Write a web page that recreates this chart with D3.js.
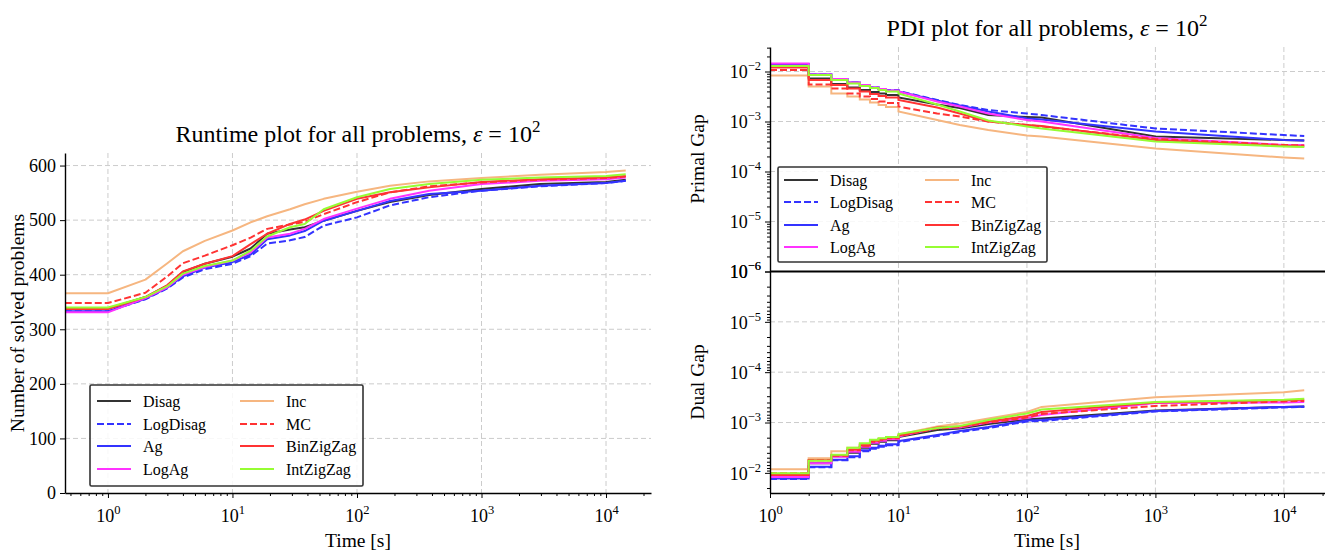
<!DOCTYPE html>
<html><head><meta charset="utf-8">
<script src="https://cdn.jsdelivr.net/npm/d3@7"></script>
<style>
body{margin:0;background:#fff;}
svg{display:block;font-family:"Liberation Serif","DejaVu Serif",serif;}
</style></head>
<body><svg id="c" width="1325" height="552"></svg>
<script>
// ---------- data ----------
const seriesNames = ["Disag","LogDisag","Ag","LogAg","Inc","MC","BinZigZag","IntZigZag"];
const seriesColors = ["#333333","#3333ff","#3333ff","#ff33ff","#f6b680","#ff3333","#ff3333","#96fd33"];
const seriesDashed = [false,true,false,false,false,true,false,false];

// runtime plot: number of solved problems at given times [s]
const runtimeTimes = [0.45,1,2,3,4,6,10,14,19,29,38,54,100,184,380,1000,2950,10000,14400];
const runtimeDisag     = [338,338,359,380,405,420,433,448,475,483,487,499,517,533,546,557,566,570,574];
const runtimeLogDisag  = [333,333,355,375,395,410,420,434,457,463,469,490,505,527,542,554,562,568,572];
const runtimeAg        = [333,333,356,376,397,413,423,437,465,472,480,499,517,535,548,554,563,568,572];
const runtimeLogAg     = [331,331,357,377,400,414,426,441,468,475,484,502,521,539,554,566,572,575,578];
const runtimeInc       = [366,366,391,421,443,462,481,496,507,520,529,539,552,563,571,577,583,588,591];
const runtimeMC        = [348,348,367,397,421,435,454,468,484,492,497,511,533,551,562,569,574,577,580];
const runtimeBinZigZag = [337,337,359,381,406,420,434,456,475,493,501,517,539,551,560,570,575,578,581];
const runtimeIntZigZag = [340,340,359,379,402,416,426,444,470,487,493,520,542,557,566,574,578,581,584];
const runtimeSeries = [runtimeDisag,runtimeLogDisag,runtimeAg,runtimeLogAg,runtimeInc,runtimeMC,runtimeBinZigZag,runtimeIntZigZag];

// PDI plot: gaps (log10 of value) at given times [s]
const pdiTimes = [1,2,3,4,5,6,7,8,10,20,30,50,100,130,1000,10000,14400];
const primalDisag     = [-1.89,-2.14,-2.25,-2.32,-2.37,-2.41,-2.44,-2.47,-2.52,-2.66,-2.73,-2.87,-2.91,-2.92,-3.30,-3.37,-3.38];
const primalLogDisag  = [-1.85,-2.06,-2.15,-2.22,-2.27,-2.32,-2.35,-2.37,-2.39,-2.57,-2.67,-2.77,-2.84,-2.87,-3.14,-3.27,-3.29];
const primalAg        = [-1.85,-2.06,-2.15,-2.22,-2.27,-2.32,-2.35,-2.38,-2.40,-2.58,-2.68,-2.80,-2.94,-2.96,-3.20,-3.37,-3.38];
const primalLogAg     = [-1.84,-2.06,-2.15,-2.22,-2.27,-2.32,-2.35,-2.38,-2.40,-2.60,-2.70,-2.84,-2.97,-3.00,-3.33,-3.47,-3.47];
const primalInc       = [-2.08,-2.30,-2.44,-2.50,-2.56,-2.62,-2.67,-2.71,-2.80,-2.97,-3.07,-3.17,-3.28,-3.30,-3.54,-3.72,-3.74];
const primalMC        = [-1.97,-2.26,-2.34,-2.44,-2.50,-2.55,-2.60,-2.63,-2.70,-2.84,-2.90,-3.00,-3.07,-3.10,-3.35,-3.47,-3.48];
const primalBinZigZag = [-1.92,-2.17,-2.27,-2.34,-2.40,-2.45,-2.49,-2.52,-2.57,-2.72,-2.84,-3.00,-3.07,-3.09,-3.37,-3.49,-3.50];
const primalIntZigZag = [-1.89,-2.07,-2.17,-2.24,-2.29,-2.33,-2.37,-2.40,-2.44,-2.66,-2.80,-2.98,-3.10,-3.14,-3.40,-3.50,-3.51];
const primalSeries = [primalDisag,primalLogDisag,primalAg,primalLogAg,primalInc,primalMC,primalBinZigZag,primalIntZigZag];

const dualDisag     = [-1.92,-2.19,-2.33,-2.40,-2.50,-2.58,-2.62,-2.65,-2.71,-2.85,-2.88,-2.97,-3.06,-3.08,-3.24,-3.31,-3.32];
const dualLogDisag  = [-1.88,-2.11,-2.25,-2.31,-2.43,-2.48,-2.52,-2.55,-2.61,-2.73,-2.81,-2.89,-3.02,-3.03,-3.22,-3.30,-3.31];
const dualAg        = [-1.89,-2.12,-2.26,-2.33,-2.45,-2.50,-2.54,-2.57,-2.63,-2.75,-2.83,-2.91,-3.04,-3.05,-3.23,-3.31,-3.32];
const dualLogAg     = [-1.92,-2.19,-2.32,-2.42,-2.52,-2.60,-2.64,-2.67,-2.72,-2.89,-2.90,-3.00,-3.09,-3.15,-3.39,-3.40,-3.41];
const dualInc       = [-2.07,-2.29,-2.43,-2.50,-2.57,-2.64,-2.68,-2.71,-2.76,-2.92,-2.98,-3.08,-3.21,-3.31,-3.50,-3.60,-3.64];
const dualMC        = [-1.99,-2.25,-2.34,-2.45,-2.54,-2.62,-2.66,-2.69,-2.73,-2.88,-2.91,-3.00,-3.10,-3.17,-3.33,-3.42,-3.43];
const dualBinZigZag = [-1.96,-2.25,-2.35,-2.46,-2.55,-2.64,-2.67,-2.70,-2.74,-2.90,-2.92,-3.02,-3.13,-3.21,-3.40,-3.44,-3.45];
const dualIntZigZag = [-1.99,-2.24,-2.36,-2.50,-2.59,-2.66,-2.69,-2.71,-2.77,-2.89,-2.93,-3.05,-3.18,-3.26,-3.41,-3.45,-3.47];
const dualSeries = [dualDisag,dualLogDisag,dualAg,dualLogAg,dualInc,dualMC,dualBinZigZag,dualIntZigZag];

const runtimeYTicks = [0,100,200,300,400,500,600];
const timeDecades = [0,1,2,3,4];
const gapDecades = [-2,-3,-4,-5,-6];

// ---------- drawing ----------
const svg = d3.select("#c");
const FONT_TICK = 18, FONT_SUP = 12.5, FONT_LABEL = 19.5, FONT_TITLE = 24, FONT_LEG = 16;
const GRID = "#cccccc";

function minorTicks(lo, hi){
  const out=[];
  for(let e=Math.floor(Math.log10(lo))-1;e<=Math.ceil(Math.log10(hi));e++)
    for(let m=2;m<=9;m++){const v=m*Math.pow(10,e); if(v>=lo&&v<=hi) out.push(v);}
  return out;
}
function powLabel(sel, exp){
  sel.text(null);
  sel.append("tspan").text("10");
  sel.append("tspan").attr("dy",-8).attr("font-size",FONT_SUP).text(exp<0?"\u2212"+(-exp):String(exp));
}
function styleAxis(g){
  g.selectAll(".domain").attr("stroke","#000").attr("stroke-width",1.4);
  g.selectAll(".tick line").attr("stroke","#000").attr("stroke-width",1);
  g.selectAll(".tick text").attr("font-family","Liberation Serif, serif").attr("font-size",FONT_TICK).attr("fill","#000");
}
function titleText(x,y,prefix){
  const t = svg.append("text").attr("x",x).attr("y",y).attr("text-anchor","middle")
    .attr("font-size",FONT_TITLE).attr("fill","#000");
  t.append("tspan").text(prefix);
  t.append("tspan").attr("font-style","italic").text("\u03b5");
  t.append("tspan").text(" = 10");
  t.append("tspan").attr("dy",-10).attr("font-size",17).text("2");
}
function buildPoints(times, vals, xs, ys, stepUntil, toVal){
  const pts=[];
  for(let i=0;i<times.length;i++){
    const v = toVal(vals[i]);
    if(i>0 && times[i]<=stepUntil) pts.push([xs(times[i]), ys(toVal(vals[i-1]))]);
    pts.push([xs(times[i]), ys(v)]);
  }
  return pts;
}
function drawLegend(x0,y0,w,h,rowY,col1,col2){
  const g = svg.append("g");
  g.append("rect").attr("x",x0).attr("y",y0).attr("width",w).attr("height",h)
    .attr("fill","#fff").attr("fill-opacity",0.85).attr("stroke","#333").attr("stroke-width",1.6).attr("rx",1.5);
  seriesNames.forEach((n,i)=>{
    const col = i<4?col1:col2, r = i%4;
    const y = y0+rowY[r];
    g.append("line").attr("x1",col).attr("x2",col+34).attr("y1",y).attr("y2",y)
      .attr("stroke",seriesColors[i]).attr("stroke-width",2.2)
      .attr("stroke-dasharray",seriesDashed[i]?"7,3":null);
    g.append("text").attr("x",col+46).attr("y",y+5.5).attr("font-size",FONT_LEG).attr("fill","#000").text(n);
  });
}

// ===== LEFT: runtime plot =====
const xL = d3.scaleLog().domain([0.452, 22970]).range([65, 651]);
const yL = d3.scaleLinear().domain([0, 623]).range([493, 153]);
svg.append("g").selectAll("line").data(timeDecades).join("line")
  .attr("x1",d=>xL(Math.pow(10,d))).attr("x2",d=>xL(Math.pow(10,d))).attr("y1",153).attr("y2",493)
  .attr("stroke",GRID).attr("stroke-dasharray","5,3").attr("stroke-width",1);
svg.append("g").selectAll("line").data(runtimeYTicks.slice(1)).join("line")
  .attr("x1",65).attr("x2",651).attr("y1",d=>yL(d)).attr("y2",d=>yL(d))
  .attr("stroke",GRID).attr("stroke-dasharray","5,3").attr("stroke-width",1);
svg.append("clipPath").attr("id","clipL").append("rect").attr("x",65).attr("y",140).attr("width",586).attr("height",353);
const gL = svg.append("g").attr("clip-path","url(#clipL)");
const lineGen = d3.line();
runtimeSeries.forEach((vals,i)=>{
  const pts = buildPoints(runtimeTimes, vals, xL, yL, 0, v=>v);
  gL.append("path").attr("d",lineGen(pts)).attr("fill","none").attr("stroke",seriesColors[i])
    .attr("stroke-width",2).attr("stroke-linejoin","round")
    .attr("stroke-dasharray",seriesDashed[i]?"7,3":null);
});
const axLx = svg.append("g").attr("transform","translate(0,493)")
  .call(d3.axisBottom(xL).tickValues(timeDecades.map(d=>Math.pow(10,d))).tickSize(5).tickPadding(4).tickSizeOuter(0));
axLx.selectAll(".tick text").each(function(d){ powLabel(d3.select(this), Math.round(Math.log10(d))); }).attr("dy","1.1em");
styleAxis(axLx);
const axLxm = svg.append("g").attr("transform","translate(0,493)")
  .call(d3.axisBottom(xL).tickValues(minorTicks(0.452,22970)).tickSize(3).tickFormat(""));
axLxm.select(".domain").remove(); axLxm.selectAll(".tick line").attr("stroke","#000");
const axLy = svg.append("g").attr("transform","translate(65,0)")
  .call(d3.axisLeft(yL).tickValues(runtimeYTicks).tickSize(5).tickPadding(4).tickSizeOuter(0));
styleAxis(axLy);
titleText(358,142,"Runtime plot for all problems, ");
svg.append("text").attr("x",358).attr("y",547).attr("text-anchor","middle").attr("font-size",FONT_LABEL).text("Time [s]");
svg.append("text").attr("transform","translate(24,323) rotate(-90)").attr("text-anchor","middle").attr("font-size",FONT_LABEL).text("Number of solved problems");
drawLegend(90,385,273,101,[16,39,61,84],97,240);

// ===== RIGHT: PDI plot =====
const xR = d3.scaleLog().domain([1, Math.pow(10,4.32)]).range([770, 1325]);
const yTop = d3.scaleLog().domain([1e-6, Math.pow(10,-1.51)]).range([271.5, 47]);
const yBot = d3.scaleLog().domain([1e-6, Math.pow(10,-1.6)]).range([271.5, 493]);
[[47,271.5],[271.5,493]].forEach(([a,b])=>{
  svg.append("g").selectAll("line").data(timeDecades.slice(1)).join("line")
    .attr("x1",d=>xR(Math.pow(10,d))).attr("x2",d=>xR(Math.pow(10,d))).attr("y1",a).attr("y2",b)
    .attr("stroke",GRID).attr("stroke-dasharray","5,3");
});
[yTop,yBot].forEach(sc=>{
  svg.append("g").selectAll("line").data(gapDecades.slice(0,4)).join("line")
    .attr("x1",770).attr("x2",1325).attr("y1",d=>sc(Math.pow(10,d))).attr("y2",d=>sc(Math.pow(10,d)))
    .attr("stroke",GRID).attr("stroke-dasharray","5,3");
});
svg.append("clipPath").attr("id","clipT").append("rect").attr("x",770).attr("y",40).attr("width",560).attr("height",231.5);
svg.append("clipPath").attr("id","clipB").append("rect").attr("x",770).attr("y",271.5).attr("width",560).attr("height",221.5);
const gT = svg.append("g").attr("clip-path","url(#clipT)");
const gB = svg.append("g").attr("clip-path","url(#clipB)");
const toGap = v=>Math.pow(10,v);
primalSeries.forEach((vals,i)=>{
  const pts = buildPoints(pdiTimes, vals, xR, yTop, 10, toGap);
  gT.append("path").attr("d",lineGen(pts)).attr("fill","none").attr("stroke",seriesColors[i])
    .attr("stroke-width",2).attr("stroke-dasharray",seriesDashed[i]?"7,3":null);
});
dualSeries.forEach((vals,i)=>{
  const pts = buildPoints(pdiTimes, vals, xR, yBot, 10, toGap);
  gB.append("path").attr("d",lineGen(pts)).attr("fill","none").attr("stroke",seriesColors[i])
    .attr("stroke-width",2).attr("stroke-dasharray",seriesDashed[i]?"7,3":null);
});
const axRx = svg.append("g").attr("transform","translate(0,493)")
  .call(d3.axisBottom(xR).tickValues(timeDecades.map(d=>Math.pow(10,d))).tickSize(5).tickPadding(4).tickSizeOuter(0));
axRx.selectAll(".tick text").each(function(d){ powLabel(d3.select(this), Math.round(Math.log10(d))); }).attr("dy","1.1em");
styleAxis(axRx);
const axRxm = svg.append("g").attr("transform","translate(0,493)")
  .call(d3.axisBottom(xR).tickValues(minorTicks(1,Math.pow(10,4.32))).tickSize(3).tickFormat(""));
axRxm.select(".domain").remove(); axRxm.selectAll(".tick line").attr("stroke","#000");

function gapAxis(scale, lo, hi){
  const g = svg.append("g").attr("transform","translate(770,0)")
    .call(d3.axisLeft(scale).tickValues(gapDecades.map(d=>Math.pow(10,d))).tickSize(5).tickPadding(4).tickSizeOuter(0));
  g.selectAll(".tick text").each(function(d){ powLabel(d3.select(this), Math.round(Math.log10(d))); }).attr("dy","0.35em");
  styleAxis(g);
  const gm = svg.append("g").attr("transform","translate(770,0)")
    .call(d3.axisLeft(scale).tickValues(minorTicks(lo,hi)).tickSize(3).tickFormat(""));
  gm.select(".domain").remove(); gm.selectAll(".tick line").attr("stroke","#000");
  return g;
}
gapAxis(yTop, 1e-6, Math.pow(10,-1.51));
gapAxis(yBot, 1e-6, Math.pow(10,-1.6));
svg.append("line").attr("x1",770).attr("x2",1325).attr("y1",271.5).attr("y2",271.5).attr("stroke","#000").attr("stroke-width",2.2);

titleText(1047,36,"PDI plot for all problems, ");
svg.append("text").attr("x",1047).attr("y",547).attr("text-anchor","middle").attr("font-size",FONT_LABEL).text("Time [s]");
svg.append("text").attr("transform","translate(704,159) rotate(-90)").attr("text-anchor","middle").attr("font-size",FONT_LABEL).text("Primal Gap");
svg.append("text").attr("transform","translate(704,382) rotate(-90)").attr("text-anchor","middle").attr("font-size",FONT_LABEL).text("Dual Gap");
drawLegend(778,167,269,95,[13,35,58,80],784,925);
</script></body></html>
